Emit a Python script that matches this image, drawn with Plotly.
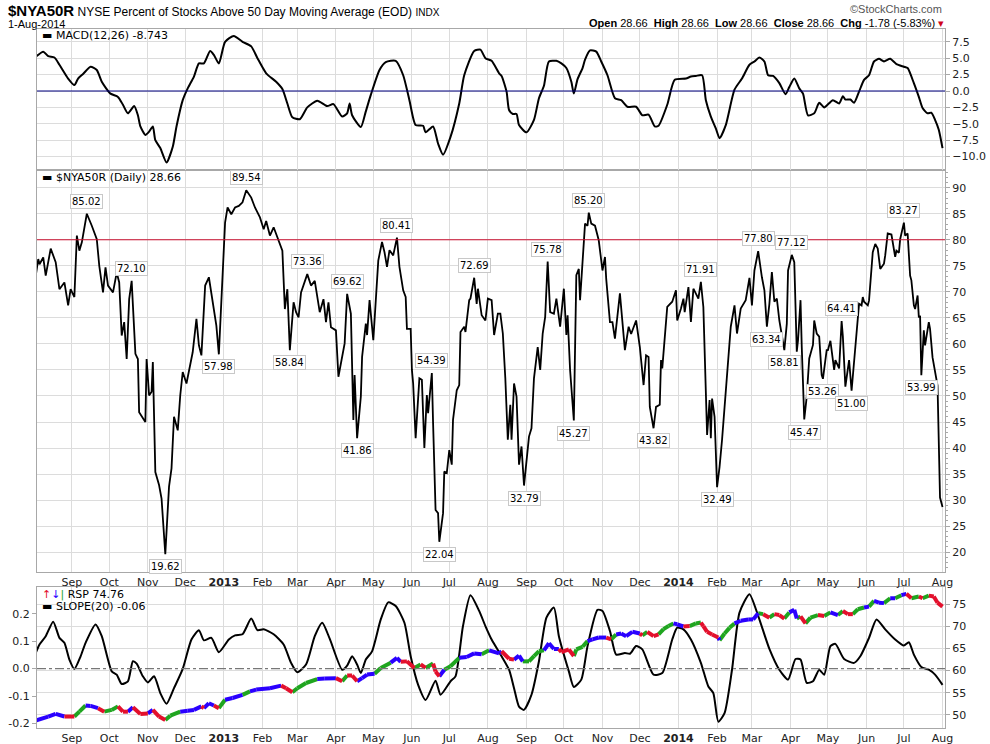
import plotly.graph_objects as go

# $NYA50R daily values
nya_dates = [
    '2012-08-03', '2012-08-05', '2012-08-06', '2012-08-09', '2012-08-11', '2012-08-15', '2012-08-19',
    '2012-08-22', '2012-08-26', '2012-08-29', '2012-08-31', '2012-09-03', '2012-09-05', '2012-09-07',
    '2012-09-09', '2012-09-13', '2012-09-17', '2012-09-21', '2012-09-23', '2012-09-26', '2012-09-28',
    '2012-09-30', '2012-10-04', '2012-10-07', '2012-10-09', '2012-10-11', '2012-10-13', '2012-10-15',
    '2012-10-17', '2012-10-19', '2012-10-22', '2012-10-24', '2012-10-25', '2012-10-28', '2012-10-30',
    '2012-10-31', '2012-11-02', '2012-11-04', '2012-11-05', '2012-11-07', '2012-11-10', '2012-11-12',
    '2012-11-15', '2012-11-18', '2012-11-20', '2012-11-22', '2012-11-25', '2012-11-27', '2012-11-29',
    '2012-12-02', '2012-12-05', '2012-12-07', '2012-12-10', '2012-12-12', '2012-12-14', '2012-12-17',
    '2012-12-20', '2012-12-23', '2012-12-26', '2012-12-28',
    '2013-01-02', '2013-01-04', '2013-01-07', '2013-01-10', '2013-01-13', '2013-01-16', '2013-01-19',
    '2013-01-23', '2013-01-26', '2013-01-30', '2013-02-02', '2013-02-04', '2013-02-07', '2013-02-10',
    '2013-02-14', '2013-02-17', '2013-02-19', '2013-02-21', '2013-02-23', '2013-02-26', '2013-02-28',
    '2013-03-02', '2013-03-04', '2013-03-09', '2013-03-12', '2013-03-15', '2013-03-19', '2013-03-22',
    '2013-03-24', '2013-03-26', '2013-03-28', '2013-04-01', '2013-04-03', '2013-04-05', '2013-04-08',
    '2013-04-10', '2013-04-13', '2013-04-15', '2013-04-16', '2013-04-18', '2013-04-21', '2013-04-22',
    '2013-04-25', '2013-04-26', '2013-04-28', '2013-05-01', '2013-05-03', '2013-05-05', '2013-05-08',
    '2013-05-10', '2013-05-12', '2013-05-14', '2013-05-17', '2013-05-20', '2013-05-22', '2013-05-25',
    '2013-05-27', '2013-05-28', '2013-05-31', '2013-06-01', '2013-06-02', '2013-06-04', '2013-06-07',
    '2013-06-09', '2013-06-11', '2013-06-13', '2013-06-14', '2013-06-17', '2013-06-18', '2013-06-20',
    '2013-06-22', '2013-06-23', '2013-06-26', '2013-06-27', '2013-06-29', '2013-07-01', '2013-07-03',
    '2013-07-04', '2013-07-07', '2013-07-09', '2013-07-10', '2013-07-13', '2013-07-14', '2013-07-17',
    '2013-07-18', '2013-07-21', '2013-07-23', '2013-07-24', '2013-07-27', '2013-07-30', '2013-08-01',
    '2013-08-04', '2013-08-06', '2013-08-09', '2013-08-11', '2013-08-13', '2013-08-15', '2013-08-17',
    '2013-08-19', '2013-08-20', '2013-08-22', '2013-08-24', '2013-08-26', '2013-08-28', '2013-08-30',
    '2013-09-03', '2013-09-05', '2013-09-07', '2013-09-10', '2013-09-12', '2013-09-14', '2013-09-16',
    '2013-09-18', '2013-09-20', '2013-09-23', '2013-09-25', '2013-09-28', '2013-10-01', '2013-10-03',
    '2013-10-04', '2013-10-06', '2013-10-09', '2013-10-11', '2013-10-13', '2013-10-14', '2013-10-16',
    '2013-10-18', '2013-10-20', '2013-10-21', '2013-10-23', '2013-10-26', '2013-10-29', '2013-11-01',
    '2013-11-03', '2013-11-04', '2013-11-07', '2013-11-09', '2013-11-11', '2013-11-14', '2013-11-15',
    '2013-11-19', '2013-11-22', '2013-11-24', '2013-11-28', '2013-12-01', '2013-12-04', '2013-12-06',
    '2013-12-08', '2013-12-09', '2013-12-12', '2013-12-14', '2013-12-17', '2013-12-18', '2013-12-19',
    '2013-12-23', '2013-12-27', '2013-12-30', '2013-12-31',
    '2014-01-03', '2014-01-05', '2014-01-06', '2014-01-09', '2014-01-11', '2014-01-13', '2014-01-17',
    '2014-01-19', '2014-01-21', '2014-01-22', '2014-01-24', '2014-01-26', '2014-01-27', '2014-01-28',
    '2014-01-30', '2014-02-01', '2014-02-03', '2014-02-05', '2014-02-07', '2014-02-10', '2014-02-12',
    '2014-02-15', '2014-02-17', '2014-02-20', '2014-02-22', '2014-02-24', '2014-02-27', '2014-03-01',
    '2014-03-03', '2014-03-06', '2014-03-09', '2014-03-11', '2014-03-13', '2014-03-15', '2014-03-17',
    '2014-03-19', '2014-03-21', '2014-03-23', '2014-03-27', '2014-03-29', '2014-03-30', '2014-04-02',
    '2014-04-04', '2014-04-06', '2014-04-07', '2014-04-09', '2014-04-10', '2014-04-12', '2014-04-14',
    '2014-04-16', '2014-04-19', '2014-04-20', '2014-04-22', '2014-04-24', '2014-04-26', '2014-04-27',
    '2014-04-30', '2014-05-01', '2014-05-03', '2014-05-05', '2014-05-06', '2014-05-07', '2014-05-10',
    '2014-05-12', '2014-05-13', '2014-05-15', '2014-05-18', '2014-05-20', '2014-05-23', '2014-05-26',
    '2014-05-28', '2014-05-29', '2014-05-30', '2014-06-02', '2014-06-03', '2014-06-06', '2014-06-08',
    '2014-06-10', '2014-06-12', '2014-06-15', '2014-06-16', '2014-06-18', '2014-06-21', '2014-06-24',
    '2014-06-25', '2014-06-27', '2014-06-28', '2014-07-01', '2014-07-02', '2014-07-04', '2014-07-06',
    '2014-07-07', '2014-07-09', '2014-07-10', '2014-07-12', '2014-07-13', '2014-07-14', '2014-07-15',
    '2014-07-17', '2014-07-18', '2014-07-21', '2014-07-22', '2014-07-24', '2014-07-26', '2014-07-28',
    '2014-07-30', '2014-08-01',
]
nya_values = [
    73.1, 76.3, 75.3, 76.6, 73.1, 78.3, 75.7,
    70.5, 71.8, 67.4, 70.5, 69.0, 80.8, 77.9,
    79.5, 85.0, 82.7, 80.1, 75.0, 69.9, 74.7,
    71.2, 69.9, 73.7, 71.8, 61.6, 64.2, 57.1,
    68.6, 72.1, 58.1, 57.1, 46.9, 45.6, 45.0,
    57.1, 50.1, 50.8, 56.5, 35.4, 32.9, 30.3,
    19.6, 32.6, 36.1, 46.0, 43.4, 50.1, 54.6,
    52.4, 55.9, 58.4, 64.8, 59.7, 57.8, 71.2,
    72.8, 68.0, 63.5, 58.0,
    83.3, 86.2, 84.9, 86.2, 86.5, 87.2, 89.5,
    88.1, 86.2, 84.3, 82.0, 83.6, 80.8, 82.4,
    79.8, 77.9, 66.7, 70.5, 58.8, 68.0, 66.1,
    65.1, 69.9, 73.4, 71.2, 72.1, 66.1, 68.6,
    64.2, 68.0, 63.2, 62.6, 53.7, 56.2, 60.1,
    69.6, 65.8, 45.4, 54.0, 41.9, 49.9, 57.5,
    63.9, 61.7, 68.4, 60.7, 69.0, 76.0, 79.6,
    77.6, 74.8, 78.0, 77.0, 80.4, 74.8, 70.3,
    69.0, 62.9, 62.9, 55.0, 52.4, 41.9, 53.4,
    53.1, 40.0, 50.2, 46.7, 54.4, 44.8, 28.1,
    27.5, 22.0, 27.5, 35.5, 35.2, 39.6, 36.8,
    45.4, 51.1, 52.1, 62.3, 63.3, 62.3, 68.4,
    68.7, 72.7, 67.7, 70.6, 65.5, 64.5, 68.7,
    68.4, 61.7, 65.8, 65.8, 62.0, 53.4, 41.6,
    48.3, 41.6, 52.4, 49.9, 36.8, 40.3, 32.8,
    42.2, 43.8, 53.4, 59.4, 55.0, 62.0, 65.2,
    75.8, 66.1, 65.8, 68.7, 63.3, 70.6, 61.7,
    65.5, 55.0, 45.3, 73.2, 74.4, 68.4, 75.4,
    83.1, 82.7, 85.2, 83.1, 82.7, 79.9, 74.1,
    76.7, 72.5, 64.2, 64.2, 61.0, 68.4, 69.7,
    58.8, 63.3, 61.9, 64.5, 59.4, 52.1, 57.8,
    57.5, 47.9, 43.8, 47.9, 48.3, 56.9, 55.3,
    67.1, 68.1, 70.3, 64.5,
    66.8, 68.7, 66.1, 70.9, 64.2, 70.6, 68.7,
    71.9, 67.1, 58.2, 42.5, 49.2, 41.9, 49.5,
    46.0, 32.5, 36.4, 41.6, 47.9, 56.2, 63.3,
    67.4, 62.0, 66.8, 67.7, 68.4, 72.7, 67.4,
    74.1, 77.8, 72.8, 70.3, 63.3, 67.7, 73.8,
    68.1, 68.7, 64.5, 58.8, 63.9, 74.1, 77.1,
    75.7, 58.5, 60.7, 68.4, 59.4, 45.5, 49.9,
    57.2, 59.8, 64.5, 62.0, 61.4, 54.0, 53.3,
    58.8, 58.8, 60.6, 56.9, 55.0, 56.9, 55.3,
    64.4, 61.4, 51.8, 56.9, 51.0, 59.4, 67.7,
    67.4, 69.0, 68.1, 67.4, 68.3, 77.6, 79.2,
    78.3, 74.4, 75.4, 77.0, 81.2, 81.0, 76.7,
    77.9, 77.5, 80.1, 83.3, 80.8, 81.2, 73.1,
    72.2, 67.4, 66.7, 69.3, 65.1, 65.4, 54.0,
    62.6, 59.7, 64.2, 62.9, 57.4, 54.6, 52.0,
    30.5, 28.7,
]

# peak / trough labels on the main panel
label_dates = [
    '2012-09-13', '2012-10-19', '2012-11-15', '2012-12-28', '2013-01-19', '2013-02-23',
    '2013-03-09', '2013-04-10', '2013-04-18', '2013-05-20', '2013-06-17', '2013-06-23',
    '2013-07-21', '2013-08-30', '2013-09-18', '2013-10-09', '2013-10-21', '2013-12-12',
    '2014-01-19', '2014-02-01', '2014-03-06', '2014-03-13', '2014-03-27', '2014-04-02',
    '2014-04-12', '2014-04-27', '2014-05-12', '2014-05-20', '2014-07-01', '2014-07-15',
]
label_values = [
    85.02, 72.10, 19.62, 57.98, 89.54, 58.84,
    73.36, 69.62, 41.86, 80.41, 54.39, 22.04,
    72.69, 32.79, 75.78, 45.27, 85.20, 43.82,
    71.91, 32.49, 77.80, 63.34, 58.81, 77.12,
    45.47, 53.26, 64.41, 51.00, 83.27, 53.99,
]
label_side = [
    'up', 'up', 'down', 'down', 'up', 'down',
    'up', 'up', 'down', 'up', 'up', 'down',
    'up', 'down', 'up', 'down', 'up', 'down',
    'up', 'down', 'up', 'down', 'down', 'up',
    'down', 'down', 'up', 'down', 'up', 'down',
]

# MACD(12,26)
macd_dates = [
    '2012-08-03', '2012-08-09', '2012-08-13', '2012-08-18', '2012-08-22', '2012-08-29', '2012-09-03',
    '2012-09-06', '2012-09-10', '2012-09-16', '2012-09-21', '2012-09-25', '2012-10-02', '2012-10-08',
    '2012-10-12', '2012-10-16', '2012-10-21', '2012-10-24', '2012-10-26', '2012-10-30', '2012-11-02',
    '2012-11-05', '2012-11-07', '2012-11-11', '2012-11-16', '2012-11-21', '2012-11-24', '2012-11-29',
    '2012-12-03', '2012-12-08', '2012-12-12', '2012-12-16', '2012-12-21', '2012-12-24', '2012-12-28',
    '2013-01-02', '2013-01-09', '2013-01-16', '2013-01-23', '2013-01-28', '2013-02-04', '2013-02-12',
    '2013-02-17', '2013-02-21', '2013-02-25', '2013-03-03', '2013-03-09', '2013-03-17', '2013-03-25',
    '2013-03-30', '2013-04-06', '2013-04-10', '2013-04-12', '2013-04-14', '2013-04-21', '2013-04-25',
    '2013-04-29', '2013-05-06', '2013-05-11', '2013-05-19', '2013-05-25', '2013-05-30', '2013-06-04',
    '2013-06-10', '2013-06-12', '2013-06-18', '2013-06-22', '2013-06-26', '2013-07-02', '2013-07-09',
    '2013-07-13', '2013-07-21', '2013-07-26', '2013-07-30', '2013-08-04', '2013-08-10', '2013-08-12',
    '2013-08-16', '2013-08-18', '2013-08-21', '2013-08-24', '2013-08-26', '2013-09-01', '2013-09-07',
    '2013-09-11', '2013-09-15', '2013-09-19', '2013-09-25', '2013-09-29', '2013-10-03', '2013-10-07',
    '2013-10-09', '2013-10-12', '2013-10-16', '2013-10-18', '2013-10-22', '2013-10-27', '2013-10-31',
    '2013-11-05', '2013-11-11', '2013-11-16', '2013-11-21', '2013-11-28', '2013-12-03', '2013-12-08',
    '2013-12-13', '2013-12-16', '2013-12-23', '2013-12-29',
    '2014-01-07', '2014-01-11', '2014-01-15', '2014-01-20', '2014-01-23', '2014-01-27', '2014-01-31',
    '2014-02-03', '2014-02-08', '2014-02-15', '2014-02-21', '2014-02-27', '2014-03-03', '2014-03-07',
    '2014-03-11', '2014-03-14', '2014-03-18', '2014-03-23', '2014-03-28', '2014-03-31', '2014-04-04',
    '2014-04-08', '2014-04-11', '2014-04-15', '2014-04-20', '2014-04-24', '2014-04-28', '2014-05-05',
    '2014-05-10', '2014-05-13', '2014-05-15', '2014-05-19', '2014-05-22', '2014-05-26', '2014-05-30',
    '2014-06-03', '2014-06-07', '2014-06-11', '2014-06-15', '2014-06-20', '2014-06-25', '2014-07-01',
    '2014-07-04', '2014-07-09', '2014-07-13', '2014-07-16', '2014-07-20', '2014-07-23', '2014-07-26',
    '2014-07-29', '2014-08-01',
]
macd_values = [
    5.2, 6.0, 5.3, 5.1, 4.0, 1.9, 0.9,
    1.9, 2.6, 3.7, 3.2, 1.4, -0.4, -0.9,
    -2.1, -3.4, -2.3, -3.7, -5.4, -6.7, -6.2,
    -5.4, -7.5, -8.7, -10.9, -8.5, -5.4, -1.4,
    0.4, 2.2, 4.2, 4.2, 6.1, 5.5, 4.2,
    7.5, 8.4, 7.5, 6.8, 5.0, 2.7, 1.4,
    0.3, -1.9, -4.0, -4.3, -2.5, -1.5, -2.3,
    -2.0, -3.9, -3.4, -1.9, -3.7, -5.5, -3.1,
    -0.6, 3.2, 4.4, 4.6, 2.4, -1.4, -5.2,
    -5.3, -6.3, -5.4, -8.0, -9.7, -7.0, -1.9,
    2.4, 6.1, 6.3, 5.0, 4.6, 2.7, 2.3,
    -0.1, -2.9, -3.5, -3.5, -5.2, -6.3, -4.4,
    -1.1, 0.8, 4.5, 4.6, 4.2, 3.5, 1.4,
    -0.4, 1.8, 3.5, 4.8, 6.2, 6.0, 4.5,
    2.4, -1.1, -1.4, -2.4, -2.4, -3.7, -3.6,
    -5.4, -5.3, -2.1, 1.7,
    1.9, 2.2, 2.3, 2.4, -1.4, -3.9, -5.7,
    -7.2, -5.2, 0.2, 1.9, 4.0, 4.5, 5.1,
    4.5, 2.4, 2.3, 1.2, -0.5, 0.6, 1.9,
    0.4, -0.4, -3.7, -3.4, -1.8, -2.5, -1.4,
    -1.9, -0.8, -1.3, -1.3, -1.8, -0.1, 1.7,
    2.4, 4.5, 4.9, 4.5, 4.9, 4.1, 3.7,
    3.5, 1.2, -0.9, -2.6, -3.4, -3.3, -4.4,
    -5.9, -8.7,
]

# SLOPE(20) of RSP
slope_dates = [
    '2012-08-03', '2012-08-06', '2012-08-11', '2012-08-17', '2012-08-22', '2012-08-26', '2012-08-30',
    '2012-09-03', '2012-09-08', '2012-09-12', '2012-09-20', '2012-09-25', '2012-10-03', '2012-10-07',
    '2012-10-11', '2012-10-16', '2012-10-20', '2012-10-23', '2012-10-28', '2012-11-01', '2012-11-06',
    '2012-11-11', '2012-11-16', '2012-11-22', '2012-11-29', '2012-12-06', '2012-12-12', '2012-12-16',
    '2012-12-22', '2012-12-28',
    '2013-01-05', '2013-01-10', '2013-01-16', '2013-01-23', '2013-01-28', '2013-02-02', '2013-02-10',
    '2013-02-18', '2013-02-24', '2013-03-01', '2013-03-08', '2013-03-15', '2013-03-21', '2013-03-27',
    '2013-04-06', '2013-04-10', '2013-04-14', '2013-04-18', '2013-04-21', '2013-04-25', '2013-04-30',
    '2013-05-07', '2013-05-13', '2013-05-19', '2013-05-26', '2013-05-31', '2013-06-06', '2013-06-12',
    '2013-06-20', '2013-06-24', '2013-07-02', '2013-07-06', '2013-07-12', '2013-07-18', '2013-07-25',
    '2013-07-30', '2013-08-04', '2013-08-12', '2013-08-18', '2013-08-22', '2013-08-26', '2013-08-30',
    '2013-09-05', '2013-09-11', '2013-09-17', '2013-09-23', '2013-09-27', '2013-10-05', '2013-10-09',
    '2013-10-15', '2013-10-20', '2013-10-28', '2013-11-01', '2013-11-07', '2013-11-12', '2013-11-19',
    '2013-11-23', '2013-11-28', '2013-12-03', '2013-12-12', '2013-12-19', '2013-12-27', '2013-12-31',
    '2014-01-05', '2014-01-11', '2014-01-19', '2014-01-25', '2014-01-29', '2014-02-02', '2014-02-07',
    '2014-02-13', '2014-02-19', '2014-02-27', '2014-03-06', '2014-03-15', '2014-03-23', '2014-03-30',
    '2014-04-05', '2014-04-09', '2014-04-14', '2014-04-19', '2014-04-24', '2014-04-28', '2014-05-03',
    '2014-05-07', '2014-05-14', '2014-05-22', '2014-05-27', '2014-06-03', '2014-06-09', '2014-06-16',
    '2014-06-24', '2014-07-01', '2014-07-05', '2014-07-09', '2014-07-15', '2014-07-21', '2014-07-26',
    '2014-08-01',
]
slope_values = [
    0.057, 0.088, 0.118, 0.171, 0.112, 0.094, 0.033,
    -0.001, 0.045, 0.094, 0.161, 0.118, -0.010, -0.022,
    -0.056, -0.046, 0.027, 0.018, -0.028, -0.050, -0.028,
    -0.089, -0.128, -0.071, -0.001, 0.106, 0.140, 0.103,
    0.112, 0.060,
    0.106, 0.121, 0.125, 0.182, 0.140, 0.143, 0.125,
    0.088, 0.021, -0.013, 0.015, 0.118, 0.167, 0.109,
    -0.004, 0.011, 0.045, 0.015, -0.016, 0.033, 0.063,
    0.179, 0.241, 0.228, 0.167, 0.045, -0.059, -0.114,
    -0.044, -0.095, -0.046, -0.028, 0.155, 0.267, 0.210,
    0.155, 0.106, 0.045, -0.004, -0.071, -0.138, -0.150,
    -0.095, 0.027, 0.186, 0.222, 0.118, -0.010, -0.067,
    -0.040, 0.082, 0.214, 0.210, 0.137, 0.051, 0.057,
    0.054, 0.082, 0.070, -0.022, -0.016, 0.106, 0.149,
    0.143, 0.106, 0.021, -0.065, -0.089, -0.193, -0.162,
    -0.004, 0.204, 0.271, 0.192, 0.072, -0.004, -0.040,
    0.035, 0.033, -0.052, -0.046, -0.004, -0.022, 0.082,
    0.090, 0.035, 0.021, 0.045, 0.112, 0.179, 0.143,
    0.106, 0.084, 0.096, 0.051, 0.006, -0.004, -0.022,
    -0.059,
]

# RSP close, with bar colour code (g = up, b = flat/unch, r = down)
rsp_dates = [
    '2012-08-03', '2012-08-13', '2012-08-19', '2012-08-26', '2012-09-03', '2012-09-07', '2012-09-12',
    '2012-09-16', '2012-09-22', '2012-09-27', '2012-10-03', '2012-10-08', '2012-10-12', '2012-10-16',
    '2012-10-20', '2012-10-26', '2012-11-01', '2012-11-05', '2012-11-10', '2012-11-15', '2012-11-19',
    '2012-11-27', '2012-12-03', '2012-12-08', '2012-12-14', '2012-12-16', '2012-12-20', '2012-12-24',
    '2012-12-28',
    '2013-01-02', '2013-01-08', '2013-01-16', '2013-01-22', '2013-01-27', '2013-02-07', '2013-02-16',
    '2013-02-20', '2013-02-25', '2013-03-01', '2013-03-08', '2013-03-17', '2013-03-23', '2013-04-01',
    '2013-04-06', '2013-04-10', '2013-04-14', '2013-04-18', '2013-04-22', '2013-04-26', '2013-05-02',
    '2013-05-07', '2013-05-15', '2013-05-20', '2013-05-23', '2013-05-28', '2013-06-03', '2013-06-08',
    '2013-06-12', '2013-06-18', '2013-06-20', '2013-06-23', '2013-06-27', '2013-07-02', '2013-07-09',
    '2013-07-15', '2013-07-21', '2013-07-27', '2013-08-02', '2013-08-10', '2013-08-12', '2013-08-18',
    '2013-08-22', '2013-08-26', '2013-08-29', '2013-09-03', '2013-09-07', '2013-09-11', '2013-09-15',
    '2013-09-19', '2013-09-23', '2013-09-27', '2013-09-29', '2013-10-05', '2013-10-09', '2013-10-11',
    '2013-10-16', '2013-10-20', '2013-10-24', '2013-10-29', '2013-11-04', '2013-11-08', '2013-11-12',
    '2013-11-16', '2013-11-20', '2013-11-25', '2013-12-01', '2013-12-03', '2013-12-07', '2013-12-12',
    '2013-12-16', '2013-12-20', '2013-12-24', '2013-12-28', '2013-12-31',
    '2014-01-05', '2014-01-10', '2014-01-15', '2014-01-19', '2014-01-21', '2014-01-24', '2014-01-28',
    '2014-02-02', '2014-02-03', '2014-02-07', '2014-02-11', '2014-02-15', '2014-02-20', '2014-02-26',
    '2014-03-02', '2014-03-06', '2014-03-10', '2014-03-15', '2014-03-19', '2014-03-23', '2014-03-27',
    '2014-03-31', '2014-04-04', '2014-04-06', '2014-04-09', '2014-04-13', '2014-04-17', '2014-04-23',
    '2014-04-28', '2014-05-03', '2014-05-09', '2014-05-13', '2014-05-17', '2014-05-21', '2014-05-25',
    '2014-05-30', '2014-06-03', '2014-06-07', '2014-06-11', '2014-06-15', '2014-06-20', '2014-06-24',
    '2014-06-29', '2014-07-03', '2014-07-07', '2014-07-13', '2014-07-16', '2014-07-21', '2014-07-25',
    '2014-07-28', '2014-08-01',
]
rsp_values = [
    48.7, 49.6, 50.2, 49.6, 49.6, 50.7, 52.1,
    52.0, 51.5, 50.7, 51.1, 51.9, 50.7, 50.7,
    51.7, 50.2, 50.3, 51.1, 49.6, 48.8, 49.8,
    50.7, 50.9, 51.1, 51.9, 51.5, 52.6, 52.1,
    51.5,
    53.4, 53.8, 54.5, 55.3, 55.7, 56.0, 56.6,
    56.0, 55.1, 56.0, 57.2, 58.1, 58.2, 58.3,
    57.6, 58.9, 58.9, 57.6, 58.3, 59.1, 59.3,
    60.6, 61.8, 62.9, 62.0, 62.1, 60.6, 61.4,
    60.6, 61.6, 59.8, 58.7, 60.2, 61.0, 62.9,
    63.1, 63.9, 63.7, 64.6, 63.9, 64.4, 62.7,
    62.5, 63.4, 62.1, 62.1, 63.3, 64.4, 64.6,
    66.2, 64.9, 64.9, 64.2, 64.8, 63.3, 64.8,
    65.4, 66.7, 67.1, 67.5, 67.5, 67.1, 68.2,
    68.4, 67.8, 68.8, 68.4, 68.0, 68.8, 67.8,
    68.2, 69.4, 70.1, 70.7, 70.5,
    70.0, 70.1, 70.7, 70.9, 70.1, 68.8, 68.2,
    67.5, 66.9, 68.4, 69.7, 70.7, 71.3, 71.6,
    71.6, 73.0, 72.8, 72.0, 72.8, 72.6, 71.8,
    73.2, 73.8, 71.8, 72.3, 70.7, 72.0, 72.6,
    72.4, 73.2, 72.6, 73.5, 72.8, 72.8, 73.9,
    74.3, 74.5, 75.8, 75.4, 75.3, 76.4, 76.4,
    77.1, 77.4, 76.4, 76.8, 76.4, 77.0, 76.8,
    75.4, 74.5,
]
rsp_codes = [
    'g', 'b', 'b', 'b', 'r', 'g', 'g',
    'b', 'b', 'r', 'g', 'g', 'r', 'r',
    'b', 'r', 'r', 'b', 'r', 'r', 'g',
    'g', 'b', 'b', 'b', 'r', 'b', 'b',
    'r',
    'g', 'b', 'b', 'g', 'b', 'b', 'b',
    'r', 'r', 'g', 'g', 'g', 'b', 'b',
    'r', 'g', 'r', 'r', 'b', 'b', 'b',
    'g', 'g', 'b', 'b', 'r', 'r', 'g',
    'r', 'g', 'r', 'r', 'b', 'g', 'g',
    'b', 'b', 'b', 'g', 'b', 'b', 'r',
    'r', 'b', 'b', 'g', 'g', 'g', 'g',
    'b', 'b', 'b', 'r', 'r', 'r', 'g',
    'g', 'g', 'b', 'b', 'b', 'r', 'g',
    'b', 'b', 'b', 'b', 'r', 'g', 'r',
    'r', 'g', 'g', 'g', 'b',
    'b', 'r', 'g', 'g', 'r', 'r', 'r',
    'r', 'b', 'g', 'g', 'g', 'b', 'b',
    'b', 'b', 'g', 'r', 'g', 'r', 'r',
    'g', 'b', 'b', 'g', 'r', 'g', 'g',
    'r', 'g', 'b', 'g', 'r', 'r', 'g',
    'g', 'b', 'g', 'b', 'b', 'g', 'b',
    'g', 'b', 'r', 'g', 'r', 'g', 'r',
    'r', 'r',
]

month_ticks = [
    '2012-09-01', '2012-10-01', '2012-11-01', '2012-12-01', '2013-01-01', '2013-02-01',
    '2013-03-01', '2013-04-01', '2013-05-01', '2013-06-01', '2013-07-01', '2013-08-01',
    '2013-09-01', '2013-10-01', '2013-11-01', '2013-12-01', '2014-01-01', '2014-02-01',
    '2014-03-01', '2014-04-01', '2014-05-01', '2014-06-01', '2014-07-01', '2014-08-01',
]
month_labels = [
    'Sep', 'Oct', 'Nov', 'Dec', '<b>2013</b>', 'Feb', 'Mar', 'Apr', 'May', 'Jun', 'Jul', 'Aug',
    'Sep', 'Oct', 'Nov', 'Dec', '<b>2014</b>', 'Feb', 'Mar', 'Apr', 'May', 'Jun', 'Jul', 'Aug',
]

rsp_colors = {'g': '#1fa51f', 'b': '#2a00ff', 'r': '#e3102c'}
border = '#a8a8a8'
grid = '#dcdcdc'
font = 'DejaVu Sans'

fig = go.Figure()

# bottom panel: slope (left axis) and RSP (right axis)
fig.add_trace(go.Scatter(x=slope_dates, y=slope_values, mode='lines',
                         line=dict(color='black', width=2, shape='spline', smoothing=0.6),
                         xaxis='x', yaxis='y', hoverinfo='skip'))

for code, col in rsp_colors.items():
    xs, ys = [], []
    for ii in range(1, len(rsp_dates)):
        if rsp_codes[ii] == code:
            xs += [rsp_dates[ii - 1], rsp_dates[ii], None]
            ys += [rsp_values[ii - 1], rsp_values[ii], None]
    fig.add_trace(go.Scatter(x=xs, y=ys, mode='lines', line=dict(color=col, width=4),
                             xaxis='x', yaxis='y2', hoverinfo='skip'))

# main panel
fig.add_trace(go.Scatter(x=nya_dates, y=nya_values, mode='lines',
                         line=dict(color='black', width=1.8),
                         xaxis='x2', yaxis='y3', hoverinfo='skip'))

# MACD panel
fig.add_trace(go.Scatter(x=macd_dates, y=macd_values, mode='lines',
                         line=dict(color='black', width=2, shape='spline', smoothing=0.6),
                         xaxis='x3', yaxis='y4', hoverinfo='skip'))

# reference lines
fig.add_shape(type='line', xref='x3 domain', yref='y4', x0=0, x1=1, y0=0, y1=0,
              line=dict(color='#000080', width=1.2))
fig.add_shape(type='line', xref='x2 domain', yref='y3', x0=0, x1=1, y0=80, y1=80,
              line=dict(color='#cc1030', width=1.2))
fig.add_shape(type='line', xref='x domain', yref='y', x0=0, x1=1, y0=0, y1=0,
              line=dict(color='#777777', width=1.2, dash='dashdot'))

# value labels
for d, v, side in zip(label_dates, label_values, label_side):
    fig.add_annotation(x=d, y=v, xref='x2', yref='y3', text='{:.2f}'.format(v),
                       showarrow=False, bgcolor='white', bordercolor='#c8c8c8',
                       borderwidth=1, borderpad=1,
                       font=dict(family=font, size=10, color='black'),
                       yanchor='bottom' if side == 'up' else 'top',
                       yshift=5 if side == 'up' else -5)

# header texts
fig.add_annotation(x=-0.034, y=1.026, xref='paper', yref='paper', xanchor='left', yanchor='middle',
                   showarrow=False, align='left',
                   text='<span style="font-size:15px"><b>$NYA50R</b></span> NYSE Percent of Stocks '
                        'Above 50 Day Moving Average (EOD) <span style="font-size:10px">INDX</span>',
                   font=dict(family='Liberation Sans', size=12, color='black'))
fig.add_annotation(x=-0.034, y=1.007, xref='paper', yref='paper', xanchor='left', yanchor='middle',
                   showarrow=False, text='1-Aug-2014',
                   font=dict(family='Liberation Sans', size=11, color='black'))
fig.add_annotation(x=0.999, y=1.029, xref='paper', yref='paper', xanchor='right', yanchor='middle',
                   showarrow=False, text='©StockCharts.com',
                   font=dict(family='Liberation Sans', size=11, color='#555555'))
fig.add_annotation(x=1.001, y=1.008, xref='paper', yref='paper', xanchor='right', yanchor='middle',
                   showarrow=False,
                   text='<b>Open</b> 28.66  <b>High</b> 28.66  <b>Low</b> 28.66  <b>Close</b> 28.66  '
                        '<b>Chg</b> -1.78 (-5.83%) <span style="color:#d0021b">▾</span>',
                   font=dict(family='Liberation Sans', size=11, color='black'))

# panel legends
fig.add_annotation(x=0.003, y=0.99, xref='paper', yref='paper', xanchor='left', yanchor='middle',
                   showarrow=False, text='<b>▬</b> MACD(12,26) -8.743',
                   font=dict(family=font, size=11, color='black'))
fig.add_annotation(x=0.003, y=0.788, xref='paper', yref='paper', xanchor='left', yanchor='middle',
                   showarrow=False, text='<b>▬</b> $NYA50R (Daily) 28.66',
                   font=dict(family=font, size=11, color='black'))
fig.add_annotation(x=0.003, y=0.191, xref='paper', yref='paper', xanchor='left', yanchor='middle',
                   showarrow=False,
                   text='<span style="color:#e3102c">↑</span><span style="color:#2a00ff">↓</span>'
                        '<span style="color:#1fa51f">|</span> RSP 74.76',
                   font=dict(family=font, size=11, color='black'))
fig.add_annotation(x=0.003, y=0.174, xref='paper', yref='paper', xanchor='left', yanchor='middle',
                   showarrow=False, text='<b>▬</b> SLOPE(20) -0.06',
                   font=dict(family=font, size=11, color='black'))

xcommon = dict(type='date', range=['2012-08-04', '2014-08-03'], tickvals=month_ticks,
               ticktext=month_labels, showgrid=True, gridcolor=grid, gridwidth=1,
               showline=True, linecolor=border, mirror=True, ticks='', automargin=False,
               tickfont=dict(family=font, size=11, color='#222222'), zeroline=False)
ycommon = dict(showline=True, linecolor=border, mirror=True, ticks='outside', ticklen=4,
               tickcolor=border, gridcolor=grid, zeroline=False, automargin=False,
               tickfont=dict(family=font, size=11, color='#222222'))

fig.update_layout(
    width=990, height=744, autosize=False,
    margin=dict(l=37, r=45, t=29, b=16),
    paper_bgcolor='white', plot_bgcolor='white',
    showlegend=False,
    xaxis=dict(xcommon, domain=[0, 1], anchor='y'),
    xaxis2=dict(xcommon, domain=[0, 1], anchor='y3', matches='x'),
    xaxis3=dict(xcommon, domain=[0, 1], anchor='y4', matches='x', showticklabels=False),
    yaxis=dict(ycommon, domain=[0, 0.2017], range=[-0.216, 0.297], side='left',
               tickvals=[-0.2, -0.1, 0.0, 0.1, 0.2], ticktext=['-0.2', '-0.1', '0.0', '0.1', '0.2'],
               showgrid=False),
    yaxis2=dict(ycommon, overlaying='y', side='right', range=[47.0, 78.95], dtick=5,
                showgrid=True, anchor='x'),
    yaxis3=dict(ycommon, domain=[0.2232, 0.7983], anchor='x2', side='right',
                range=[16.2, 93.4], dtick=5, showgrid=True,
                minor=dict(dtick=1, ticklen=2, tickcolor=border, ticks='outside', showgrid=False)),
    yaxis4=dict(ycommon, domain=[0.7983, 1], anchor='x3', side='right',
                range=[-12.04, 9.45], dtick=2.5, tickformat='.1f', showgrid=True),
)

# drop the browser's default 8px page margin so the figure sits at the window corner,
# and hide the modebar that would cover the header text
fig.write_html("out.html", config={'displayModeBar': False},
               post_script="document.body.style.margin = '0';")
